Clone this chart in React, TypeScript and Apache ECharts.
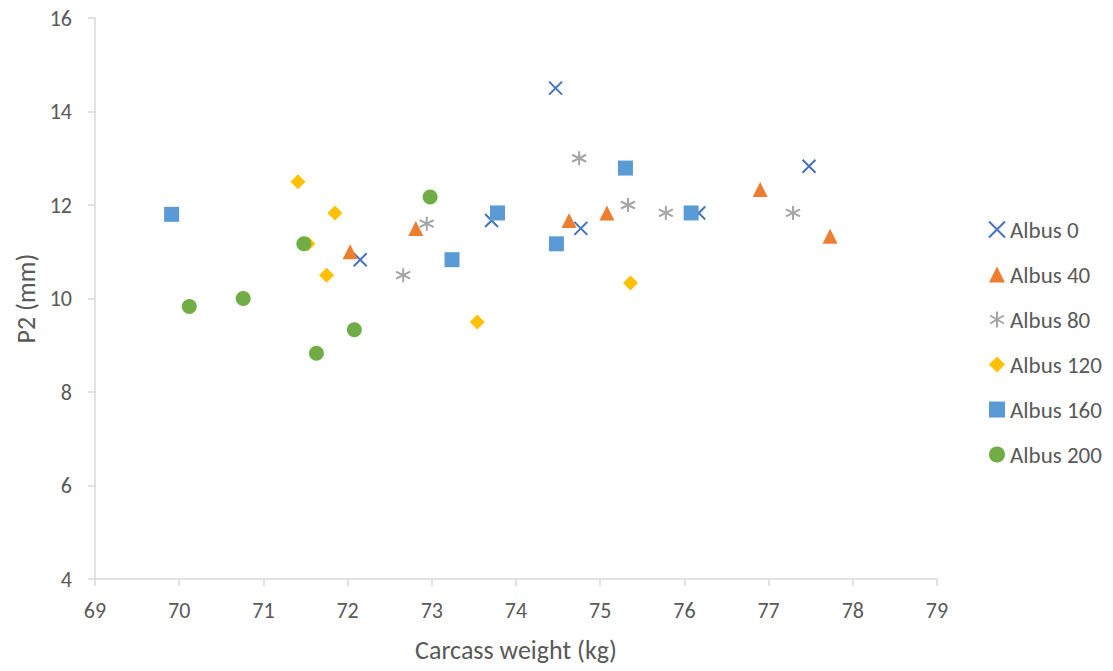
import React, { useEffect, useRef } from "react";
import * as echarts from "echarts";

const seriesNames = ["Albus 0", "Albus 40", "Albus 80", "Albus 120", "Albus 160", "Albus 200"];

const albus0: number[][] = [
  [74.47, 14.5], [73.71, 11.67], [74.77, 11.5], [72.15, 10.83], [76.17, 11.83], [77.48, 12.83],
];
const albus40: number[][] = [
  [72.03, 11.0], [72.81, 11.5], [74.63, 11.67], [75.08, 11.83], [76.9, 12.33], [77.73, 11.33],
];
const albus80: number[][] = [
  [72.66, 10.5], [72.94, 11.6], [74.75, 13.0], [75.33, 12.0], [75.78, 11.83], [77.29, 11.83],
];
const albus120: number[][] = [
  [71.41, 12.5], [71.85, 11.83], [71.53, 11.17], [71.75, 10.5], [73.54, 9.5], [75.36, 10.33],
];
const albus160: number[][] = [
  [69.91, 11.8], [73.24, 10.83], [73.78, 11.83], [74.48, 11.17], [75.3, 12.79], [76.08, 11.83],
];
const albus200: number[][] = [
  [70.12, 9.83], [70.76, 10.0], [71.48, 11.17], [71.63, 8.83], [72.08, 9.33], [72.98, 12.17],
];

const seriesData = [albus0, albus40, albus80, albus120, albus160, albus200];
const colors = ["#4472C4", "#ED7D31", "#A5A5A5", "#FFC000", "#5B9BD5", "#70AD47"];

const xTicks = { min: 69, max: 79, interval: 1 };
const yTicks = { min: 4, max: 16, interval: 2 };

const crossPath = "path://M0,0 L10,10 M10,0 L0,10";
const starPath = "path://M5,0 L5,10 M0.7,2.5 L9.3,7.5 M0.7,7.5 L9.3,2.5";

const FONT = "Carlito, Calibri, Lato, sans-serif";

export default function App() {
  const ref = useRef<HTMLDivElement>(null);
  useEffect(() => {
    document.body.style.margin = "0";
    if (!ref.current) return;
    const chart = echarts.init(ref.current, undefined, { renderer: "svg" });

    const symbolFor = (i: number) => {
      switch (i) {
        case 0: return { symbol: crossPath, symbolSize: 13 };
        case 1: return { symbol: "triangle", symbolSize: 15 };
        case 2: return { symbol: starPath, symbolSize: 14 };
        case 3: return { symbol: "diamond", symbolSize: 15 };
        case 4: return { symbol: "rect", symbolSize: 15 };
        default: return { symbol: "circle", symbolSize: 15 };
      }
    };
    const styleFor = (i: number) =>
      i === 0 || i === 2
        ? { color: "transparent", borderColor: colors[i], borderWidth: 2, opacity: 1 }
        : { color: colors[i], opacity: 1 };

    const series = seriesNames.map((name, i) => {
      const sym = symbolFor(i);
      return {
        name,
        type: "scatter",
        data: seriesData[i],
        symbol: sym.symbol,
        symbolSize: sym.symbolSize,
        itemStyle: styleFor(i),
        emphasis: { disabled: true },
      };
    });

    chart.setOption({
      animation: false,
      backgroundColor: "#ffffff",
      textStyle: { fontFamily: FONT },
      grid: { left: 95, right: 176, top: 18, bottom: 92, containLabel: false },
      legend: {
        orient: "vertical",
        left: 983,
        top: 213,
        itemGap: 22,
        itemWidth: 16,
        itemHeight: 16,
        textStyle: { fontSize: 23, color: "#595959", fontFamily: FONT },
        data: seriesNames.map((n, i) => ({
          name: n,
          icon: symbolFor(i).symbol,
          itemStyle: styleFor(i),
        })),
      },
      xAxis: {
        type: "value",
        min: xTicks.min,
        max: xTicks.max,
        interval: xTicks.interval,
        name: "Carcass weight (kg)",
        nameLocation: "middle",
        nameGap: 58,
        nameTextStyle: { fontSize: 26, color: "#595959", fontFamily: FONT },
        axisLine: { show: true, onZero: false, lineStyle: { color: "#D9D9D9", width: 1.5 } },
        axisTick: { show: true, length: 7, lineStyle: { color: "#D9D9D9", width: 1.5 } },
        axisLabel: { fontSize: 22, color: "#595959", margin: 20, fontFamily: FONT },
        splitLine: { show: false },
      },
      yAxis: {
        type: "value",
        min: yTicks.min,
        max: yTicks.max,
        interval: yTicks.interval,
        name: "P2 (mm)",
        nameLocation: "middle",
        nameGap: 56,
        nameRotate: 90,
        nameTextStyle: { fontSize: 26, color: "#595959", fontFamily: FONT },
        axisLine: { show: true, onZero: false, lineStyle: { color: "#D9D9D9", width: 1.5 } },
        axisTick: { show: true, length: 7, lineStyle: { color: "#D9D9D9", width: 1.5 } },
        axisLabel: { fontSize: 22, color: "#595959", margin: 23, fontFamily: FONT },
        splitLine: { show: false },
      },
      series,
    });
    return () => chart.dispose();
  }, []);
  return <div ref={ref} style={{ width: 1113, height: 671 }} />;
}
